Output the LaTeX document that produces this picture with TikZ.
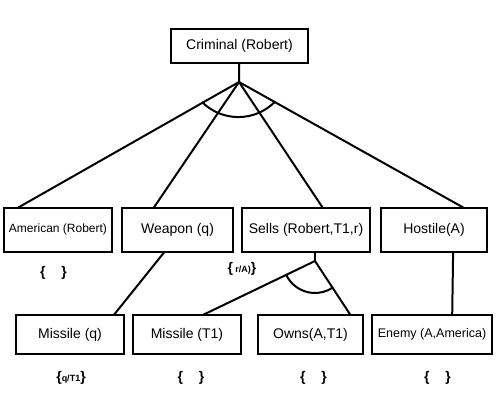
\documentclass[tikz,border=0pt]{standalone}
\usepackage{fontspec}
\setmainfont{Liberation Sans}
\begin{document}
\begin{tikzpicture}[x=1pt, y=1pt,
	box/.style={draw, line width=2pt, inner sep=0pt, outer sep=0pt, minimum height=44pt, font=\fontsize{14}{16}\selectfont},
	link/.style={line width=2pt},
	subst/.style={font=\fontsize{14}{16}\selectfont\bfseries}]
	\useasboundingbox (0,0) rectangle (500,400);

	\node[box, minimum width=137pt, minimum height=34pt] (crim) at (239.5,354) {Criminal (Robert)};
	\coordinate (j1) at (239,318);

	\node[box, minimum width=108pt, font=\fontsize{12}{14}\selectfont] (amer) at (58,170.5) {American (Robert)};
	\node[box, minimum width=111pt] (weap) at (177.5,170.5) {Weapon (q)};
	\node[box, minimum width=128pt] (sells) at (306,170.5) {Sells (Robert,T1,r)};
	\node[box, minimum width=106pt] (host) at (434,170.5) {Hostile(A)};
	\coordinate (j2) at (315,139);

	\node[box, minimum width=108pt, minimum height=39pt] (misq) at (70,65.5) {Missile (q)};
	\node[box, minimum width=108pt, minimum height=39pt] (mist) at (187,65.5) {Missile (T1)};
	\node[box, minimum width=105pt, minimum height=39pt] (owns) at (310.5,65.5) {Owns(A,T1)};
	\node[box, minimum width=120pt, minimum height=39pt, font=\fontsize{12.5}{14}\selectfont] (enemy) at (432,65.5) {Enemy (A,America)};

	\node[subst] (s1) at (53.5,127) {\{\hspace{16pt}\}};
	\node[subst] (s2) at (242,131) {\{\,{\fontsize{9}{10}\selectfont r/A)}\}};
	\node[subst] (s3) at (71,22) {\{{\fontsize{9}{10}\selectfont q/T1}\}};
	\node[subst] (s4) at (191,22) {\{\hspace{16pt}\}};
	\node[subst] (s5) at (313.5,22) {\{\hspace{16pt}\}};
	\node[subst] (s6) at (437.5,22) {\{\hspace{16pt}\}};

	\draw[link] (crim) -- (j1);
	\draw[link] (j1) -- (amer.151);
	\draw[link] (j1) -- (weap.137);
	\draw[link] (j1) -- (sells.53);
	\draw[link] (j1) -- (host.37);
	\draw[link] (j1) ++(-37,-20) arc[start angle=225, end angle=315, radius=51.4];

	\draw[link] (weap.240) -- (misq.24);
	\draw[link] (sells.south -| j2) -- (j2);
	\draw[link] (j2) -- (mist.51);
	\draw[link] (j2) -- (owns.26);
	\draw[link] (j2) ++(205.3:32) arc[start angle=205.3, end angle=304.2, radius=32];
	\draw[link] (host.311) -- (enemy.44);
\end{tikzpicture}
\end{document}
